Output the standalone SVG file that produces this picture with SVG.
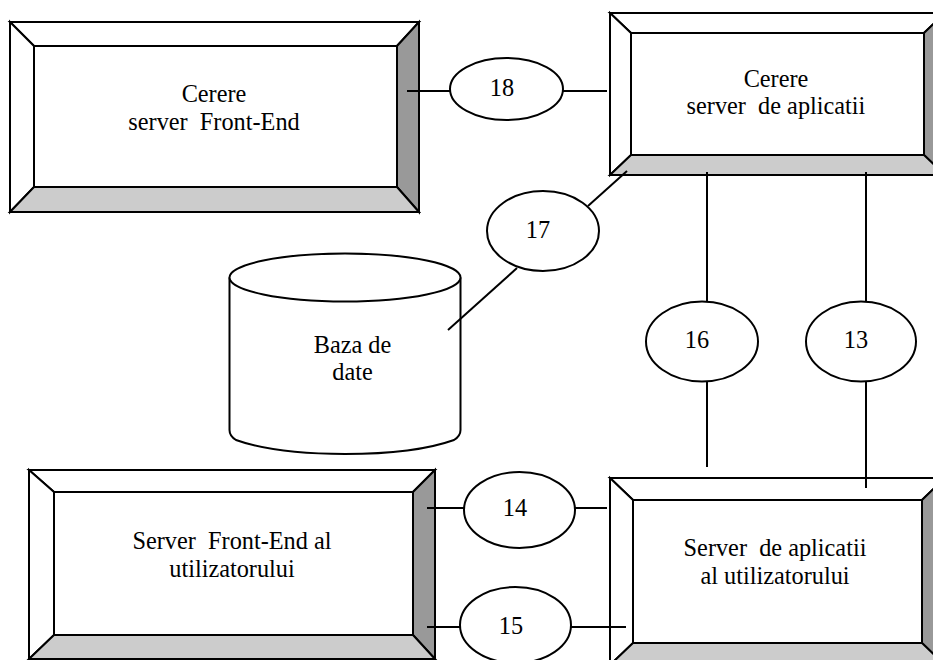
<svg xmlns="http://www.w3.org/2000/svg" width="933" height="660" viewBox="0 0 933 660">
<style>
.o{stroke:#000;stroke-width:2;stroke-linejoin:miter}
.w{fill:#fff}
.d{fill:#999}
.l{fill:#ccc}
.t{font-family:"Liberation Serif","Times New Roman",serif;font-size:24.3px;fill:#000;text-anchor:middle;white-space:pre}
.c line{stroke:#000;stroke-width:2}
.e{fill:#fff;stroke:#000;stroke-width:2}
</style>
<rect width="933" height="660" fill="#fff"/>
<g id="box1">
<polygon class="o w" points="10,22 419,22 397,46 34,46"/>
<polygon class="o w" points="10,22 34,46 34,187 10,212"/>
<polygon class="o d" points="419,22 419,212 397,187 397,46"/>
<polygon class="o l" points="10,212 34,187 397,187 419,212"/>
<rect class="o w" x="34" y="46" width="363" height="141"/>
<text class="t" x="214" y="102">Cerere</text>
<text class="t" x="214" y="130">server  Front-End</text>
</g>
<g id="box2">
<polygon class="o w" points="610,13 945,13 924,33 631,33"/>
<polygon class="o w" points="610,13 631,33 631,155 610,175"/>
<polygon class="o d" points="945,13 945,175 924,155 924,33"/>
<polygon class="o l" points="610,175 631,155 924,155 945,175"/>
<rect class="o w" x="631" y="33" width="293" height="122"/>
<text class="t" x="776" y="87">Cerere</text>
<text class="t" x="776" y="114">server  de aplicatii</text>
</g>
<g id="box3">
<polygon class="o w" points="29,470 435,470 413,492 54,492"/>
<polygon class="o w" points="29,470 54,492 54,635 29,659"/>
<polygon class="o d" points="435,470 435,659 413,635 413,492"/>
<polygon class="o l" points="29,659 54,635 413,635 435,659"/>
<rect class="o w" x="54" y="492" width="359" height="143"/>
<text class="t" x="232" y="549">Server  Front-End al</text>
<text class="t" x="232" y="577">utilizatorului</text>
</g>
<g id="box4">
<polygon class="o w" points="610,478 945,478 922,500 633,500"/>
<polygon class="o w" points="610,478 633,500 633,643 610,665"/>
<polygon class="o d" points="945,478 945,665 922,643 922,500"/>
<polygon class="o l" points="610,665 633,643 922,643 945,665"/>
<rect class="o w" x="633" y="500" width="289" height="143"/>
<text class="t" x="775" y="556">Server  de aplicatii</text>
<text class="t" x="775" y="584">al utilizatorului</text>
</g>
<g id="db">
<path class="e" d="M229.5,277.5 L229.5,430 Q229.5,436 236,440 Q275,454 345,454 Q415,454 454,440 Q460.5,436 460.5,430 L460.5,277.5"/>
<ellipse class="e" cx="345" cy="277.5" rx="115.5" ry="24"/>
<text class="t" x="352.5" y="352.5">Baza de</text>
<text class="t" x="352.5" y="379.5">date</text>
</g>
<g id="conn" class="c">
<line x1="407" y1="91" x2="450" y2="91"/>
<line x1="563" y1="91" x2="607" y2="91"/>
<line x1="588" y1="206" x2="627" y2="171"/>
<line x1="517" y1="268" x2="448" y2="330"/>
<line x1="707" y1="172" x2="707" y2="301"/>
<line x1="707" y1="381" x2="707" y2="467"/>
<line x1="866" y1="172" x2="866" y2="301"/>
<line x1="866" y1="381" x2="866" y2="488"/>
<line x1="427" y1="508" x2="464" y2="508"/>
<line x1="575" y1="508" x2="607" y2="508"/>
<line x1="427" y1="627" x2="460" y2="627"/>
<line x1="571" y1="627" x2="626" y2="627"/>
</g>
<g id="n18"><ellipse class="e" cx="506.5" cy="89" rx="56.5" ry="31"/><text class="t" x="502" y="96">18</text></g>
<g id="n17"><ellipse class="e" cx="543" cy="231" rx="56" ry="40"/><text class="t" x="538" y="238">17</text></g>
<g id="n16"><ellipse class="e" cx="702" cy="341.5" rx="56" ry="40"/><text class="t" x="697" y="348">16</text></g>
<g id="n13"><ellipse class="e" cx="861" cy="341.5" rx="55" ry="40"/><text class="t" x="856" y="348">13</text></g>
<g id="n14"><ellipse class="e" cx="519.5" cy="510" rx="55.5" ry="38"/><text class="t" x="515" y="516">14</text></g>
<g id="n15"><ellipse class="e" cx="515.5" cy="625" rx="55.5" ry="38"/><text class="t" x="511" y="634">15</text></g>
</svg>
